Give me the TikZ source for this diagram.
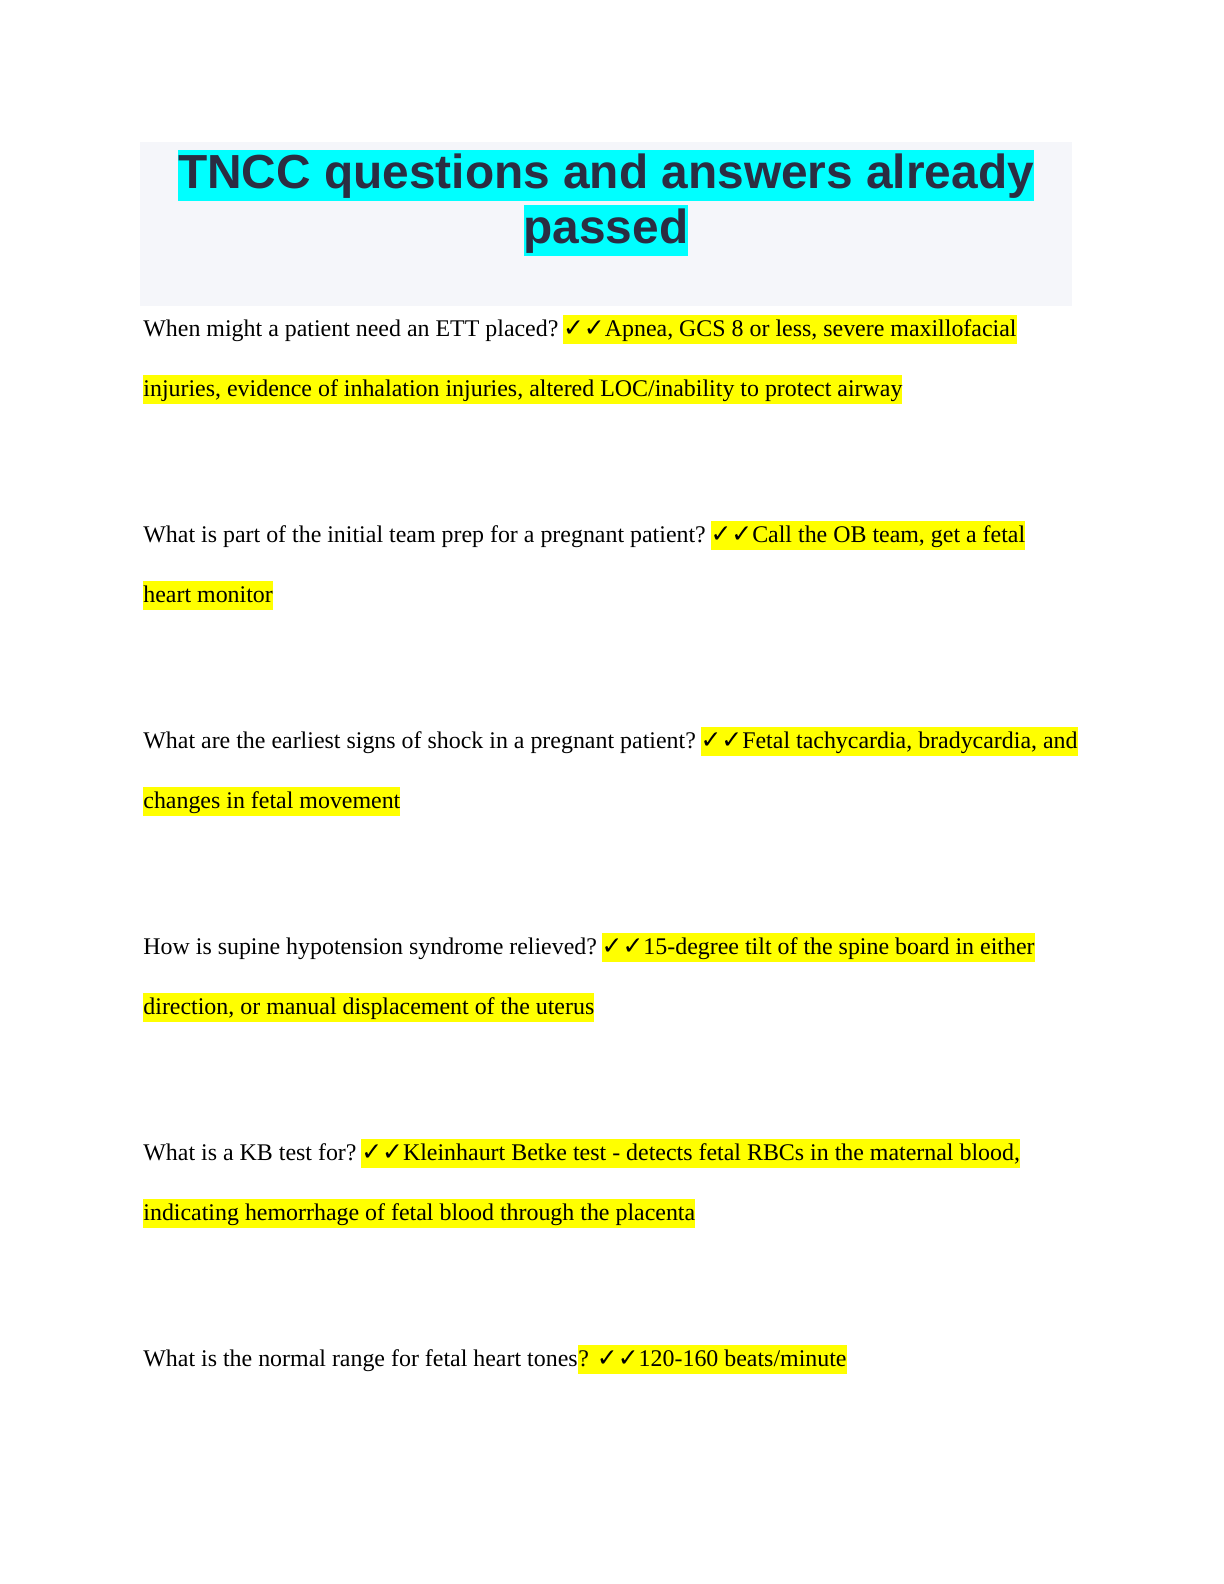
\documentclass[tikz,border=0pt]{standalone}
\usepackage{fontspec}
\setmainfont{Liberation Serif}
\setsansfont{Liberation Sans}
\newfontfamily\symfont{DejaVu Sans}
\usetikzlibrary{positioning}
\definecolor{pagegray}{RGB}{245,246,250}
\definecolor{titleink}{RGB}{43,45,66}
\definecolor{hlcyan}{RGB}{0,255,255}
\definecolor{hlyellow}{RGB}{255,255,0}
\tikzset{
  qtext/.style={anchor=base west,inner xsep=0pt,inner ysep=1pt,text height=9.5pt,text depth=3pt,font=\fontsize{12}{14}\selectfont},
  atext/.style={qtext,fill=hlyellow},
  ttext/.style={anchor=base,inner xsep=0pt,inner ysep=1pt,fill=hlcyan,text=titleink,text height=18pt,text depth=5.5pt,font=\fontsize{24}{30}\sffamily\bfseries\selectfont}
}
\newcommand{\ticks}{{\symfont\bfseries\fontsize{12.5}{14}\selectfont ✓✓}}
\begin{document}
\begin{tikzpicture}[x=0.5bp,y=-0.5bp]
\useasboundingbox (0,0) rectangle (1224,1584);
\fill[pagegray] (140,142) rectangle (1072,306);
\node[ttext] (title1) at (606,188) {TNCC questions and answers already};
\node[ttext] (title2) at (606,243) {passed};
% question 1
\node[qtext] (q1) at (143,336) {When might a patient need an ETT placed?};
\node[atext,right=2pt of q1.base east,anchor=base west] (a1) {\ticks Apnea, GCS 8 or less, severe maxillofacial};
\node[atext] (a1b) at (143,396) {injuries, evidence of inhalation injuries, altered LOC/inability to protect airway};
% question 2
\node[qtext] (q2) at (143,542) {What is part of the initial team prep for a pregnant patient?};
\node[atext,right=2pt of q2.base east,anchor=base west] (a2) {\ticks Call the OB team, get a fetal};
\node[atext] (a2b) at (143,602) {heart monitor};
% question 3
\node[qtext] (q3) at (143,748) {What are the earliest signs of shock in a pregnant patient?};
\node[atext,right=2pt of q3.base east,anchor=base west] (a3) {\ticks Fetal tachycardia, bradycardia, and};
\node[atext] (a3b) at (143,808) {changes in fetal movement};
% question 4
\node[qtext] (q4) at (143,954) {How is supine hypotension syndrome relieved?};
\node[atext,right=2pt of q4.base east,anchor=base west] (a4) {\ticks 15-degree tilt of the spine board in either};
\node[atext] (a4b) at (143,1014) {direction, or manual displacement of the uterus};
% question 5
\node[qtext] (q5) at (143,1160) {What is a KB test for?};
\node[atext,right=2pt of q5.base east,anchor=base west] (a5) {\ticks Kleinhaurt Betke test - detects fetal RBCs in the maternal blood,};
\node[atext] (a5b) at (143,1220) {indicating hemorrhage of fetal blood through the placenta};
% question 6
\node[qtext] (q6) at (143,1366) {What is the normal range for fetal heart tones};
\node[atext,right=0pt of q6.base east,anchor=base west] (a6) {? \ticks 120-160 beats/minute};
\end{tikzpicture}
\end{document}
